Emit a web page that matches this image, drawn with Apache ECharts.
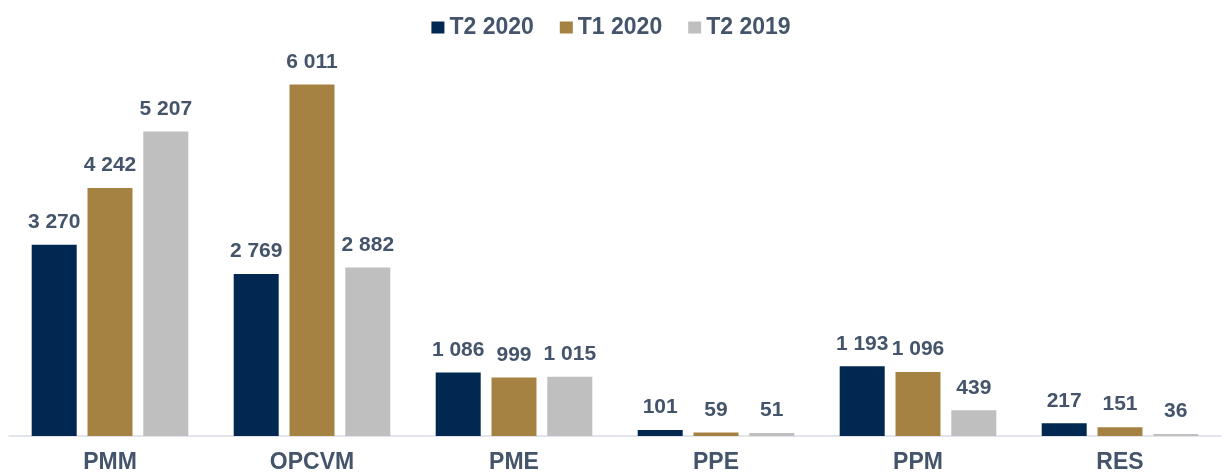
<!DOCTYPE html>
<html>
<head>
<meta charset="utf-8">
<script src="https://cdn.jsdelivr.net/npm/echarts@6/dist/echarts.min.js"></script>
<style>
  html, body { margin: 0; padding: 0; background: #fff; }
  #chart { width: 1222px; height: 475px; }
</style>
</head>
<body>
<div id="chart"></div>
<script>
// catégories et séries
const categories = ['PMM', 'OPCVM', 'PME', 'PPE', 'PPM', 'RES']
const seriesNames = ['T2 2020', 'T1 2020', 'T2 2019']
const t2_2020 = [3270, 2769, 1086, 101, 1193, 217]
const t1_2020 = [4242, 6011, 999, 59, 1096, 151]
const t2_2019 = [5207, 2882, 1015, 51, 439, 36]
const colors = ['#002850', '#A68242', '#BFBFBF']

const textColor = '#44546A'
const font = '"Liberation Sans", Arial, sans-serif'

// 3 270 -> séparateur de milliers par espace
const fmt = v => String(v).replace(/\B(?=(\d{3})+(?!\d))/g, ' ')

const myChart = echarts.init(document.getElementById('chart'))

const makeSeries = (name, data, color) => ({
  name: name,
  type: 'bar',
  data: data,
  barWidth: 45,
  barGap: '24%',
  itemStyle: { color: color },
  label: {
    show: true,
    position: 'top',
    distance: 12,
    color: textColor,
    fontFamily: font,
    fontWeight: 'bold',
    fontSize: 21,
    formatter: p => fmt(p.value)
  }
})

const option = {
  animation: false,
  color: colors,
  legend: {
    top: 11,
    left: 'center',
    itemWidth: 13,
    itemHeight: 12,
    itemGap: 26,
    icon: 'rect',
    textStyle: {
      color: textColor,
      fontFamily: font,
      fontWeight: 'bold',
      fontSize: 23
    },
    data: seriesNames
  },
  grid: {
    left: 9,
    right: 1,
    top: 56,
    bottom: 39
  },
  xAxis: {
    type: 'category',
    data: categories,
    axisTick: { show: false },
    axisLine: { lineStyle: { color: '#D9DEE6', width: 1.5 } },
    axisLabel: {
      margin: 15,
      color: textColor,
      fontFamily: font,
      fontWeight: 'bold',
      fontSize: 23
    }
  },
  yAxis: {
    type: 'value',
    min: 0,
    max: 6500,
    show: false,
    splitLine: { show: false }
  },
  series: [
    makeSeries(seriesNames[0], t2_2020, colors[0]),
    makeSeries(seriesNames[1], t1_2020, colors[1]),
    makeSeries(seriesNames[2], t2_2019, colors[2])
  ]
}

myChart.setOption(option)
</script>
</body>
</html>
